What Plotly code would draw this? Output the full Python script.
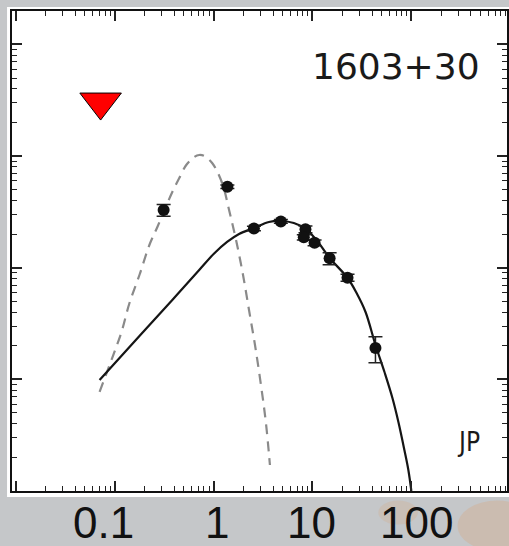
import math
import plotly.graph_objects as go

# ---- data ----
limit_freq = [0.0722]
limit_flux = [3.05]

obs_freq = [0.313, 1.38, 2.56, 4.79, 8.49, 8.17, 10.5, 14.9, 22.6, 43.3]
obs_flux = [0.329, 0.532, 0.225, 0.260, 0.221, 0.1874, 0.1676, 0.1215, 0.0815, 0.0191]
obs_err = [0.04, 0.02, 0.01, 0.01, 0.015, 0.01, 0.01, 0.015, 0.006, 0.005]

dash_freq = [0.0705, 0.0953, 0.1174, 0.1414, 0.1783, 0.2247, 0.2706, 0.3257, 0.3831,
             0.4505, 0.5298, 0.6377, 0.7162, 0.8043, 0.9681, 1.2209, 1.4357, 1.6885,
             1.9862, 2.283, 2.6236, 3.015, 3.3852, 3.7137]
dash_flux = [0.00771, 0.01586, 0.02657, 0.04833, 0.0861, 0.1599, 0.2317, 0.3429, 0.4771,
             0.6368, 0.8325, 0.982, 1.0233, 1.0025, 0.8678, 0.5743, 0.3292, 0.1773,
             0.0861, 0.04183, 0.02032, 0.0089, 0.004066, 0.00171]

jp_freq = [0.0705, 0.1783, 0.3831, 0.7162, 1.014, 1.3706, 1.8105, 2.563, 3.6285, 4.7914,
           6.4773, 8.554, 11.561, 14.92, 22.646, 27.902, 34.375, 43.353, 53.412, 64.27,
           73.86, 84.88, 93.11, 99.84]
jp_flux = [0.009872, 0.02446, 0.0514, 0.09546, 0.1341, 0.1701, 0.2006, 0.227, 0.2569,
           0.2623, 0.2517, 0.2224, 0.1666, 0.1223, 0.0809, 0.05939, 0.04015, 0.02032,
           0.01164, 0.006812, 0.004151, 0.002331, 0.001543, 0.001]

xtick_vals = [0.1, 1, 10, 100]
xtick_text = ["0.1", "1", "10", "100"]
xtick_shift = [-11, 3, -1, 5]

source_name = "1603+30"
model_name = "JP"

fig = go.Figure()

fig.add_trace(go.Scatter(x=dash_freq, y=dash_flux, mode="lines",
                         line=dict(color="#8a8a8a", width=2.2, dash="10px,7px", shape="spline"),
                         hoverinfo="skip", showlegend=False))
fig.add_trace(go.Scatter(x=jp_freq, y=jp_flux, mode="lines",
                         line=dict(color="#151515", width=2.2, shape="spline"),
                         showlegend=False))
fig.add_trace(go.Scatter(x=obs_freq, y=obs_flux, mode="markers",
                         marker=dict(color="#111111", size=12, symbol="circle"),
                         error_y=dict(type="data", array=obs_err, color="#222222",
                                      thickness=1.5, width=7),
                         showlegend=False))
fig.add_trace(go.Scatter(x=limit_freq, y=limit_flux, mode="markers",
                         marker=dict(color="#ff0000", size=36, symbol="triangle-down",
                                     line=dict(color="#000000", width=1)),
                         showlegend=False))

minor = dict(ticks="inside", ticklen=5, tickwidth=1.3, tickcolor="#222", dtick="D1", showgrid=False)

fig.update_xaxes(type="log", range=[-2.037, 2.966], dtick=1, tick0=0,
                 showline=True, linecolor="#111", linewidth=2, mirror="allticks",
                 ticks="inside", ticklen=10, tickwidth=1.5, tickcolor="#222",
                 showticklabels=False, showgrid=False, zeroline=False, minor=minor)
fig.update_yaxes(type="log", range=[-3, 1.3], dtick=1, tick0=0,
                 showline=True, linecolor="#111", linewidth=2, mirror="allticks",
                 ticks="inside", ticklen=10, tickwidth=1.5, tickcolor="#222",
                 showticklabels=False, showgrid=False, zeroline=False, minor=minor)

shapes = [
    dict(type="rect", xref="paper", yref="paper", x0=-0.01, x1=1.02, y0=-0.0125, y1=1.0085,
         fillcolor="white", line=dict(width=0), layer="below"),
    dict(type="circle", xref="paper", yref="paper", x0=0.90, x1=1.06, y0=-0.125, y1=-0.02,
         fillcolor="#d9a377", opacity=0.3, line=dict(width=0), layer="below"),
    dict(type="circle", xref="paper", yref="paper", x0=0.74, x1=0.82, y0=-0.07, y1=-0.02,
         fillcolor="#d8a880", opacity=0.25, line=dict(width=0), layer="below"),
]

annotations = [
    dict(text=source_name, xref="paper", yref="paper", x=0.776, y=0.885, showarrow=False,
         font=dict(family="DejaVu Sans", size=36, color="#1a1a1a"), xanchor="center", yanchor="middle"),
    dict(text=model_name, xref="paper", yref="paper", x=0.923, y=0.103, showarrow=False,
         font=dict(family="DejaVu Sans Condensed, DejaVu Sans", size=26, color="#1a1a1a"),
         xanchor="center", yanchor="middle"),
]
for v, t, s in zip(xtick_vals, xtick_text, xtick_shift):
    annotations.append(dict(text=t, xref="x", yref="paper", x=math.log10(v), y=-0.0646,
                            xshift=s, showarrow=False, xanchor="center", yanchor="middle",
                            font=dict(family="Liberation Sans", size=44, color="#111111")))

fig.update_layout(width=509, height=546, margin=dict(l=12, r=0, t=11, b=55),
                  paper_bgcolor="#c5c7c9", plot_bgcolor="white",
                  shapes=shapes, annotations=annotations)

fig.write_html("out.html")
